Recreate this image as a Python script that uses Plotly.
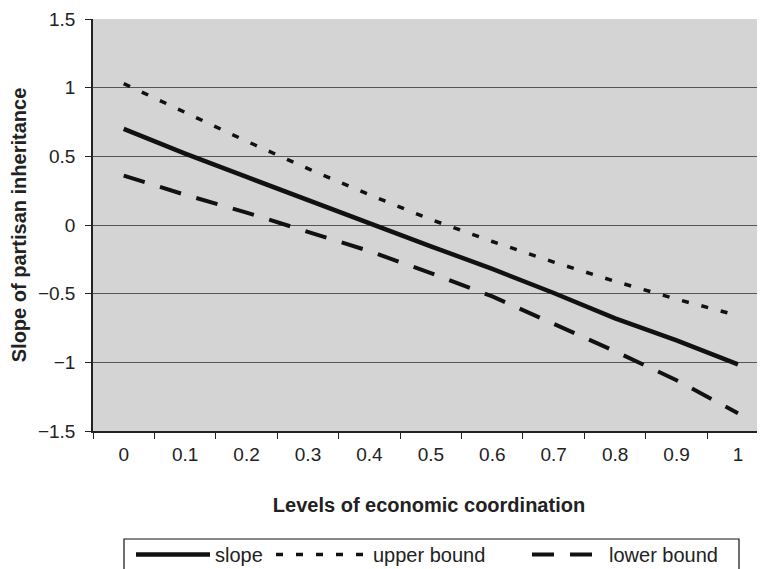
import plotly.graph_objects as go

categories = ["0", "0.1", "0.2", "0.3", "0.4", "0.5", "0.6", "0.7", "0.8", "0.9", "1"]
slope = [0.70, 0.52, 0.35, 0.18, 0.01, -0.155, -0.32, -0.495, -0.68, -0.84, -1.015]
upper_bound = [1.03, 0.82, 0.61, 0.41, 0.22, 0.04, -0.12, -0.27, -0.41, -0.54, -0.66]
lower_bound = [0.36, 0.22, 0.09, -0.05, -0.19, -0.35, -0.52, -0.72, -0.92, -1.13, -1.37]
y_ticks = [1.5, 1, 0.5, 0, -0.5, -1, -1.5]
y_tick_text = ["1.5", "1", "0.5", "0", "\u22120.5", "\u22121", "\u22121.5"]

FONT = "Liberation Sans, Arial, sans-serif"
INK = "#222222"
LINE = "#111111"

# figure pixel frame (page adds an 8px body margin)
W, H = 757, 561
ML, MT, MB, MR = 85, 11, 138, 0
PW, PH = W - ML - MR, H - MT - MB


def px(xp):
    return (xp - ML) / PW


def py(yp):
    return (H - MB - yp) / PH


fig = go.Figure()
fig.add_trace(go.Scatter(x=categories, y=slope, mode="lines", name="slope", legend="legend",
                         line=dict(color=LINE, width=4.5, dash="solid")))
fig.add_trace(go.Scatter(x=categories, y=upper_bound, mode="lines", name="upper bound", legend="legend2",
                         line=dict(color=LINE, width=3.5, dash="7px,13px")))
fig.add_trace(go.Scatter(x=categories, y=lower_bound, mode="lines", name="lower bound", legend="legend3",
                         line=dict(color=LINE, width=4, dash="22px,16px")))

leg_common = dict(orientation="h", xanchor="left", yanchor="top", y=py(527),
                  bgcolor="rgba(0,0,0,0)", borderwidth=0,
                  font=dict(family=FONT, size=20, color=INK))

fig.update_layout(
    width=W, height=H,
    margin=dict(l=ML, r=MR, t=MT, b=MB, autoexpand=False),
    paper_bgcolor="white",
    plot_bgcolor="#d4d4d4",
    font=dict(family=FONT, size=19, color=INK),
    showlegend=True,
    legend=dict(x=px(123), itemwidth=74, **leg_common),
    legend2=dict(x=px(263), itemwidth=92, **leg_common),
    legend3=dict(x=px(519), itemwidth=72, **leg_common),
    shapes=[dict(type="rect", xref="paper", yref="paper",
                 x0=px(116), x1=px(731), y0=py(580), y1=py(531),
                 line=dict(color=LINE, width=1.2), fillcolor="rgba(0,0,0,0)", layer="below")],
    xaxis=dict(
        type="category", range=[-0.5, 10.44], automargin=False,
        tickson="boundaries", ticks="outside", ticklen=6, tickcolor=INK,
        tickfont=dict(family=FONT, size=19, color=INK),
        showgrid=False, showline=True, linecolor=INK, linewidth=1.5,
        ticklabelstandoff=5,
        title=dict(text="<b>Levels of economic coordination</b>", standoff=34,
                   font=dict(family=FONT, size=20, color=INK)),
        zeroline=False,
    ),
    yaxis=dict(
        range=[-1.5, 1.5], tickvals=y_ticks, ticktext=y_tick_text, automargin=False,
        ticks="outside", ticklen=6, tickcolor=INK,
        tickfont=dict(family=FONT, size=19, color=INK),
        ticklabelstandoff=6,
        showgrid=True, gridcolor="#555555", gridwidth=1.2,
        showline=True, linecolor=INK, linewidth=1.5,
        zeroline=False,
        title=dict(text="<b>Slope of partisan inheritance</b>", standoff=10,
                   font=dict(family=FONT, size=20, color=INK)),
    ),
)

fig.write_html("out.html")
